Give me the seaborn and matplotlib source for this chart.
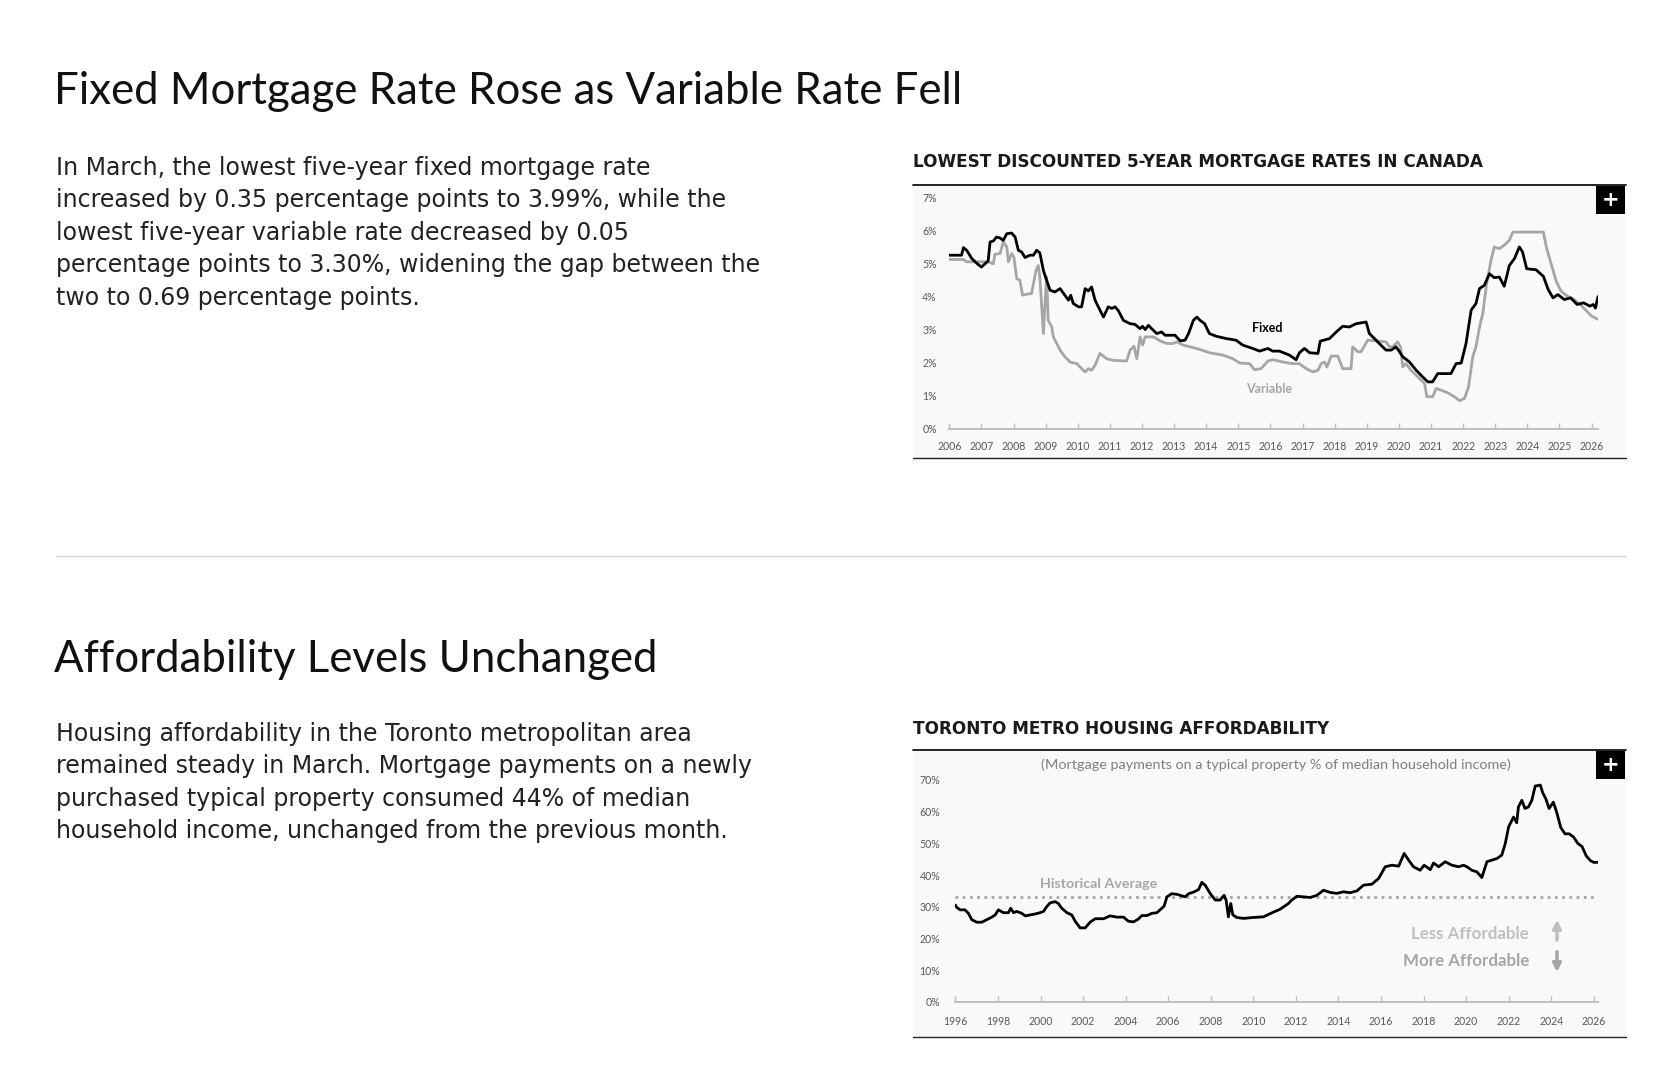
import matplotlib
matplotlib.use("Agg")
import matplotlib.pyplot as plt
import seaborn as sns
import pandas as pd
from matplotlib.patches import Rectangle, FancyArrowPatch
from matplotlib.lines import Line2D

# ---------------- data ----------------
fixed_rate = [(2006.0, 5.24), (2006.38, 5.24), (2006.44, 5.47), (2006.54, 5.39), (2006.70, 5.14),
              (2006.85, 5.00), (2007.0, 4.88), (2007.11, 4.98), (2007.21, 5.07), (2007.27, 5.64),
              (2007.37, 5.67), (2007.47, 5.79), (2007.58, 5.76), (2007.68, 5.69), (2007.79, 5.89),
              (2007.94, 5.91), (2008.05, 5.79), (2008.15, 5.39), (2008.25, 5.34), (2008.36, 5.17),
              (2008.51, 5.24), (2008.62, 5.24), (2008.72, 5.39), (2008.82, 5.31), (2008.93, 4.78),
              (2009.03, 4.48), (2009.14, 4.18), (2009.29, 4.13), (2009.45, 4.23), (2009.60, 4.03),
              (2009.71, 3.88), (2009.78, 4.03), (2009.86, 3.78), (2010.02, 3.68), (2010.12, 3.68),
              (2010.23, 4.23), (2010.33, 4.16), (2010.43, 4.28), (2010.54, 3.88), (2010.64, 3.68),
              (2010.80, 3.37), (2010.95, 3.68), (2011.06, 3.63), (2011.16, 3.68), (2011.26, 3.57),
              (2011.42, 3.27), (2011.63, 3.17), (2011.78, 3.15), (2011.94, 3.02), (2012.02, 3.09),
              (2012.10, 2.99), (2012.20, 3.12), (2012.30, 3.02), (2012.46, 2.87), (2012.61, 2.92),
              (2012.72, 2.82), (2013.03, 2.82), (2013.19, 2.65), (2013.34, 2.67), (2013.45, 2.87),
              (2013.60, 3.27), (2013.71, 3.37), (2013.81, 3.27), (2013.95, 3.17), (2014.10, 2.87),
              (2014.31, 2.79), (2014.62, 2.72), (2014.93, 2.67), (2015.14, 2.52), (2015.45, 2.42),
              (2015.66, 2.34), (2015.92, 2.42), (2016.07, 2.34), (2016.28, 2.34), (2016.59, 2.22),
              (2016.80, 2.08), (2016.90, 2.29), (2017.06, 2.42), (2017.22, 2.29), (2017.48, 2.27),
              (2017.55, 2.64), (2017.84, 2.72), (2018.05, 2.92), (2018.25, 3.09), (2018.46, 3.07),
              (2018.67, 3.17), (2018.98, 3.22), (2019.08, 2.87), (2019.24, 2.72), (2019.39, 2.57),
              (2019.60, 2.37), (2019.76, 2.37), (2019.91, 2.47), (2020.02, 2.32), (2020.12, 2.17),
              (2020.33, 2.01), (2020.54, 1.76), (2020.74, 1.56), (2020.90, 1.41), (2021.05, 1.41),
              (2021.21, 1.66), (2021.62, 1.66), (2021.78, 1.96), (2021.94, 1.98), (2022.09, 2.57),
              (2022.25, 3.58), (2022.40, 3.78), (2022.51, 4.23), (2022.66, 4.33), (2022.82, 4.68),
              (2022.97, 4.56), (2023.13, 4.58), (2023.28, 4.30), (2023.44, 4.93), (2023.60, 5.14),
              (2023.75, 5.49), (2023.85, 5.34), (2023.98, 4.83), (2024.27, 4.80), (2024.5, 4.60),
              (2024.65, 4.20), (2024.8, 3.95), (2024.95, 4.05), (2025.15, 3.90), (2025.35, 3.95),
              (2025.55, 3.75), (2025.75, 3.80), (2025.95, 3.70), (2026.05, 3.75), (2026.12, 3.64),
              (2026.2, 3.99)]

variable_rate = [(2006.0, 5.11), (2006.44, 5.11), (2006.54, 5.04), (2007.21, 5.04), (2007.37, 4.98),
                 (2007.42, 5.27), (2007.58, 5.29), (2007.68, 5.64), (2007.79, 5.49), (2007.84, 5.04),
                 (2007.94, 5.29), (2008.01, 5.19), (2008.10, 4.53), (2008.20, 4.48), (2008.28, 4.03),
                 (2008.41, 4.06), (2008.56, 4.08), (2008.62, 4.38), (2008.70, 4.78), (2008.77, 4.93),
                 (2008.82, 4.58), (2008.93, 2.87), (2008.98, 3.78), (2009.03, 4.58), (2009.08, 3.27),
                 (2009.19, 3.07), (2009.24, 2.77), (2009.45, 2.37), (2009.60, 2.17), (2009.76, 2.01),
                 (2009.97, 1.96), (2010.12, 1.81), (2010.23, 1.71), (2010.33, 1.81), (2010.43, 1.76),
                 (2010.54, 1.91), (2010.69, 2.27), (2010.90, 2.11), (2011.11, 2.06), (2011.52, 2.04),
                 (2011.63, 2.37), (2011.75, 2.49), (2011.84, 2.11), (2011.94, 2.77), (2012.02, 2.52),
                 (2012.10, 2.77), (2012.36, 2.77), (2012.56, 2.65), (2012.77, 2.57), (2012.98, 2.57),
                 (2013.08, 2.62), (2013.29, 2.52), (2013.50, 2.47), (2013.81, 2.39), (2014.10, 2.29),
                 (2014.52, 2.22), (2014.83, 2.11), (2015.04, 1.98), (2015.35, 1.96), (2015.50, 1.78),
                 (2015.71, 1.81), (2015.92, 2.04), (2016.07, 2.08), (2016.39, 2.01), (2016.70, 1.96),
                 (2016.90, 1.96), (2017.11, 1.81), (2017.32, 1.71), (2017.48, 1.76), (2017.58, 1.96),
                 (2017.68, 2.01), (2017.76, 1.86), (2017.89, 2.19), (2018.10, 2.19), (2018.25, 1.81),
                 (2018.51, 1.81), (2018.56, 2.47), (2018.72, 2.32), (2018.82, 2.32), (2019.03, 2.67),
                 (2019.29, 2.65), (2019.60, 2.62), (2019.71, 2.47), (2019.81, 2.47), (2019.96, 2.62),
                 (2020.05, 2.47), (2020.12, 1.86), (2020.22, 1.96), (2020.38, 1.76), (2020.64, 1.51),
                 (2020.80, 1.36), (2020.87, 0.96), (2021.05, 0.96), (2021.16, 1.21), (2021.31, 1.16),
                 (2021.52, 1.08), (2021.73, 0.96), (2021.89, 0.84), (2022.04, 0.91), (2022.17, 1.26),
                 (2022.30, 2.17), (2022.40, 2.47), (2022.51, 3.07), (2022.61, 3.47), (2022.74, 4.43),
                 (2022.87, 5.09), (2022.97, 5.49), (2023.13, 5.44), (2023.28, 5.54), (2023.44, 5.69),
                 (2023.55, 5.94), (2024.5, 5.94), (2024.6, 5.45), (2024.75, 4.95), (2024.9, 4.45),
                 (2025.05, 4.15), (2025.25, 4.00), (2025.45, 3.90), (2025.65, 3.75), (2025.85, 3.55),
                 (2026.0, 3.40), (2026.1, 3.35), (2026.2, 3.30)]

rate_year_ticks = list(range(2006, 2027))
rate_pct_ticks = list(range(0, 8))

affordability = [(1996.0, 30.5), (1996.06, 29.8), (1996.22, 29.0), (1996.45, 29.0), (1996.61, 27.9),
                 (1996.77, 25.9), (1997.0, 25.1), (1997.24, 25.1), (1997.47, 25.9), (1997.71, 26.7),
                 (1997.87, 27.4), (1998.02, 29.0), (1998.26, 28.1), (1998.49, 28.1), (1998.60, 29.5),
                 (1998.73, 28.1), (1998.88, 28.5), (1999.12, 27.9), (1999.28, 27.1), (1999.51, 27.4),
                 (1999.75, 27.7), (1999.98, 28.1), (2000.14, 28.5), (2000.29, 30.0), (2000.45, 31.2),
                 (2000.69, 31.6), (2000.84, 31.0), (2001.0, 29.5), (2001.24, 28.1), (2001.47, 27.4),
                 (2001.63, 25.4), (2001.86, 23.3), (2002.10, 23.3), (2002.33, 25.1), (2002.57, 26.2),
                 (2002.96, 26.2), (2003.27, 27.1), (2003.59, 26.7), (2003.90, 26.7), (2004.13, 25.4),
                 (2004.37, 25.2), (2004.60, 26.1), (2004.76, 27.2), (2005.0, 27.2), (2005.23, 27.9),
                 (2005.47, 28.1), (2005.62, 29.0), (2005.81, 30.2), (2005.94, 33.1), (2006.17, 34.1),
                 (2006.41, 33.9), (2006.56, 33.6), (2006.80, 33.1), (2006.96, 34.1), (2007.19, 34.6),
                 (2007.43, 35.4), (2007.58, 37.7), (2007.66, 37.2), (2007.74, 36.8), (2007.97, 34.2),
                 (2008.21, 32.1), (2008.44, 32.1), (2008.63, 33.6), (2008.72, 32.1), (2008.83, 26.8),
                 (2008.94, 31.0), (2009.04, 27.4), (2009.22, 26.6), (2009.54, 26.3), (2010.01, 26.6),
                 (2010.48, 26.8), (2010.79, 27.8), (2011.26, 29.2), (2011.65, 31.0), (2011.81, 32.1),
                 (2012.05, 33.3), (2012.36, 33.1), (2012.67, 32.9), (2012.99, 33.6), (2013.30, 35.2),
                 (2013.61, 34.5), (2013.93, 34.2), (2014.24, 34.7), (2014.55, 34.4), (2014.87, 35.0),
                 (2015.18, 36.8), (2015.57, 37.1), (2015.89, 38.9), (2016.20, 42.6), (2016.51, 43.1),
                 (2016.83, 42.8), (2017.09, 46.8), (2017.30, 44.7), (2017.53, 42.6), (2017.84, 41.5),
                 (2018.03, 43.1), (2018.32, 41.7), (2018.47, 43.8), (2018.71, 42.6), (2019.02, 44.2),
                 (2019.33, 43.1), (2019.65, 42.6), (2019.88, 43.1), (2020.04, 42.6), (2020.27, 41.5),
                 (2020.51, 41.0), (2020.74, 39.2), (2020.98, 44.2), (2021.21, 44.7), (2021.45, 45.2),
                 (2021.68, 46.3), (2021.84, 49.9), (2022.0, 55.2), (2022.23, 58.3), (2022.38, 56.5),
                 (2022.46, 61.5), (2022.62, 63.6), (2022.77, 61.0), (2022.93, 61.5), (2023.09, 63.6),
                 (2023.25, 68.1), (2023.49, 68.4), (2023.6, 66.0), (2023.75, 64.0), (2023.9, 61.0),
                 (2024.0, 62.0), (2024.1, 63.0), (2024.25, 60.0), (2024.45, 55.0), (2024.65, 53.0),
                 (2024.85, 53.0), (2025.05, 52.0), (2025.25, 50.0), (2025.45, 49.0), (2025.65, 46.0),
                 (2025.85, 44.5), (2026.0, 44.0), (2026.2, 44.0)]
historical_average = 33.0
afford_year_ticks = list(range(1996, 2027, 2))
afford_pct_ticks = list(range(0, 80, 10))

# ---------------- texts ----------------
title1 = "Fixed Mortgage Rate Rose as Variable Rate Fell"
para1 = ["In March, the lowest five-year fixed mortgage rate",
         "increased by 0.35 percentage points to 3.99%, while the",
         "lowest five-year variable rate decreased by 0.05",
         "percentage points to 3.30%, widening the gap between the",
         "two to 0.69 percentage points."]
chart1_title = "LOWEST DISCOUNTED 5-YEAR MORTGAGE RATES IN CANADA"
title2 = "Affordability Levels Unchanged"
para2 = ["Housing affordability in the Toronto metropolitan area",
         "remained steady in March. Mortgage payments on a newly",
         "purchased typical property consumed 44% of median",
         "household income, unchanged from the previous month."]
chart2_title = "TORONTO METRO HOUSING AFFORDABILITY"
chart2_sub = "(Mortgage payments on a typical property % of median household income)"

# ---------------- layout helpers ----------------
W, H = 1657, 1078
def fx(x): return x / W
def fy(y): return 1 - y / H

sns.set_theme(style="white")
plt.rcParams["font.family"] = ["Lato", "DejaVu Sans"]

fig = plt.figure(figsize=(W / 100, H / 100), dpi=100)
fig.patch.set_facecolor("white")

# page text
for txt, base in [(title1, 104), (title2, 672)]:
    fig.text(fx(54), fy(base), txt, fontsize=31.5, fontweight="normal",
             family=["Lato", "DejaVu Sans"], color="#111111", va="baseline", ha="left")
for lines, base in [(para1, 175), (para2, 741)]:
    for i, line in enumerate(lines):
        fig.text(fx(56), fy(base + 32.4 * i), line, fontsize=17.0,
                 family=["DejaVu Sans"], color="#222222", va="baseline", ha="left")

# divider
fig.add_artist(Line2D([fx(56), fx(1626)], [fy(555.5)] * 2, color="#d6d6d6", lw=1.0,
                      transform=fig.transFigure))


def chart_frame(top, bottom, title, title_baseline):
    fig.add_artist(Rectangle((fx(913), fy(bottom)), fx(1626) - fx(913), (bottom - top) / H,
                             transform=fig.transFigure, facecolor="#f9f9f9", edgecolor="none",
                             zorder=-2))
    fig.add_artist(Line2D([fx(913), fx(1626)], [fy(top)] * 2, color="black", lw=1.2,
                          transform=fig.transFigure))
    fig.add_artist(Line2D([fx(913), fx(1626)], [fy(bottom)] * 2, color="#222222", lw=1.0,
                          transform=fig.transFigure))
    fig.text(fx(913), fy(title_baseline), title, fontsize=12.15, fontweight="bold",
             family=["DejaVu Sans"], color="#1a1a1a", va="baseline", ha="left")
    fig.add_artist(Rectangle((fx(1596), fy(top + 29)), 29 / W, 28 / H, transform=fig.transFigure,
                             facecolor="black", edgecolor="none"))
    fig.text(fx(1610.5), fy(top + 15), "+", fontsize=15, fontweight="bold", color="white",
             ha="center", va="center", family=["DejaVu Sans"])


def style_axis(ax, xticks, yticks, xlim, ylim, ypad, xpad):
    ax.set_facecolor("none")
    ax.set_xlim(*xlim)
    ax.set_ylim(*ylim)
    ax.set_xticks(xticks)
    ax.set_xticklabels([str(t) for t in xticks])
    ax.set_yticks(yticks)
    ax.set_yticklabels([f"{t}%" for t in yticks])
    for s in ["top", "right", "left"]:
        ax.spines[s].set_visible(False)
    ax.spines["bottom"].set_color("#bfbfbf")
    ax.spines["bottom"].set_linewidth(1.4)
    ax.tick_params(axis="x", direction="in", length=4, width=1, color="#bfbfbf",
                   labelsize=7.6, labelcolor="#595959", pad=xpad, bottom=True)
    ax.tick_params(axis="y", length=0, labelsize=7.6, labelcolor="#595959", pad=ypad, left=False)
    ax.grid(False)
    ax.set_xlabel("")
    ax.set_ylabel("")


# ---------------- chart 1 ----------------
chart_frame(185, 458, chart1_title, 167)
ax1 = fig.add_axes([fx(949.3), fy(428.5), (1598 - 949.3) / W, (428.5 - 197) / H])
df_fixed = pd.DataFrame(fixed_rate, columns=["year", "rate"])
df_var = pd.DataFrame(variable_rate, columns=["year", "rate"])
sns.lineplot(data=df_var, x="year", y="rate", ax=ax1, color="#a6a6a6", lw=2.0,
             estimator=None, sort=False)
sns.lineplot(data=df_fixed, x="year", y="rate", ax=ax1, color="black", lw=2.0,
             estimator=None, sort=False)
style_axis(ax1, rate_year_ticks, rate_pct_ticks, (2006, 2026.2), (0, 7), 9, 9)
ax1.text(2015.9, 3.05, "Fixed", fontsize=9.0, fontweight="bold", color="black",
         ha="center", va="center")
ax1.text(2015.95, 1.18, "Variable", fontsize=9.0, fontweight="bold", color="#a6a6a6",
         ha="center", va="center")

# ---------------- chart 2 ----------------
chart_frame(750, 1037, chart2_title, 734)
ax2 = fig.add_axes([fx(955.4), fy(1001.7), (1598 - 955.4) / W, (1001.7 - 780) / H])
df_aff = pd.DataFrame(affordability, columns=["year", "pct"])
ax2.axhline(historical_average, color="#a6a6a6", lw=2.0, ls=(0, (1, 1.6)))
sns.lineplot(data=df_aff, x="year", y="pct", ax=ax2, color="black", lw=2.0,
             estimator=None, sort=False)
style_axis(ax2, afford_year_ticks, afford_pct_ticks, (1996, 2026.2), (0, 70), 11, 10)
fig.text(fx(1276), fy(765), chart2_sub, fontsize=10.4, color="#7f7f7f", ha="center", va="center")
fig.text(fx(1099), fy(884.5), "Historical Average", fontsize=10.3, fontweight="bold",
         color="#a6a6a6", ha="center", va="center")
fig.text(fx(1469.5), fy(934), "Less Affordable", fontsize=12.2, fontweight="bold",
         color="#bfbfbf", ha="center", va="center")
fig.text(fx(1466.5), fy(960.6), "More Affordable", fontsize=12.2, fontweight="bold",
         color="#a6a6a6", ha="center", va="center")
fig.add_artist(FancyArrowPatch((fx(1557), fy(943)), (fx(1557), fy(917)),
                               transform=fig.transFigure, arrowstyle="-|>",
                               mutation_scale=12, color="#bfbfbf", lw=2.5))
fig.add_artist(FancyArrowPatch((fx(1557), fy(949)), (fx(1557), fy(975)),
                               transform=fig.transFigure, arrowstyle="-|>",
                               mutation_scale=12, color="#a6a6a6", lw=2.5))

fig.savefig("out.png", dpi=100)
